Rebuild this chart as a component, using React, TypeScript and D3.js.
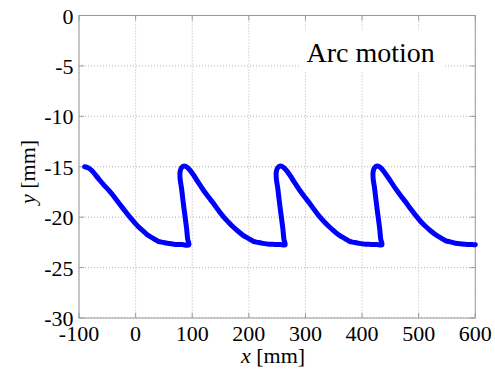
import React from "react";
import * as d3 from "d3";

// Trajectory of the tool tip, x and y in millimetres
const pathX = [
  -90, -84, -78, -66, -57, -48, -39, -31, -22, -13, -4, 5, 14, 22, 31, 40, 49, 58, 70, 82, 94,
  92, 90, 87, 84, 81, 78.5, 78.5, 81, 85.5, 92,
  102, 110, 119.5, 128, 137, 146, 155, 164, 172, 181, 190, 199, 208, 216, 225, 236, 246, 256, 264,
  262, 260, 257, 254, 251, 248.5, 248.5, 251, 255.5, 262,
  272, 280, 289.5, 298, 307, 316, 325, 334, 342, 351, 360, 369, 378, 386, 395, 406, 416, 426, 435,
  433, 431, 428, 425, 422, 419.5, 419.5, 422, 426.5, 433,
  442, 450, 459.5, 468, 477, 486, 495, 504, 512, 521, 530, 539, 548, 556, 565, 576, 586, 595, 600,
];
const pathY = [
  -15.0, -15.1, -15.35, -16.15, -16.75, -17.3, -17.9, -18.5, -19.15, -19.8, -20.4, -20.95, -21.4, -21.8, -22.1, -22.4, -22.5, -22.6, -22.7, -22.72, -22.75,
  -22.2, -21.1, -19.8, -18.5, -17.1, -16.15, -15.5, -15.1, -14.93, -15.1,
  -15.8, -16.5, -17.3, -17.95, -18.6, -19.3, -19.95, -20.5, -20.95, -21.4, -21.8, -22.1, -22.4, -22.5, -22.6, -22.68, -22.7, -22.72, -22.75,
  -22.2, -21.1, -19.8, -18.5, -17.1, -16.15, -15.5, -15.1, -14.93, -15.1,
  -15.8, -16.5, -17.3, -17.95, -18.6, -19.3, -19.95, -20.5, -20.95, -21.4, -21.8, -22.1, -22.4, -22.5, -22.6, -22.68, -22.7, -22.72, -22.75,
  -22.2, -21.1, -19.8, -18.5, -17.1, -16.15, -15.5, -15.1, -14.93, -15.1,
  -15.75, -16.4, -17.2, -17.85, -18.5, -19.2, -19.85, -20.45, -20.9, -21.35, -21.75, -22.05, -22.35, -22.45, -22.58, -22.65, -22.7, -22.72, -22.73,
];

const xTicks = [-100, 0, 100, 200, 300, 400, 500, 600];
const yTicks = [0, -5, -10, -15, -20, -25, -30];
const titleText = "Arc motion";

const W = 495;
const H = 372;
const plot = { left: 79, right: 475.3, top: 15.5, bottom: 318 };
const FONT = "Liberation Serif, Tinos, Times New Roman, DejaVu Serif, serif";

export default function App() {
  const x = d3.scaleLinear().domain([-100, 600]).range([plot.left, plot.right]);
  const y = d3.scaleLinear().domain([-30, 0]).range([plot.bottom, plot.top]);

  const pts: [number, number][] = pathX.map((v, i) => [v, pathY[i]]);
  const line = d3
    .line<[number, number]>()
    .x((d) => x(d[0]))
    .y((d) => y(d[1]))
    .curve(d3.curveCatmullRom.alpha(0.5));

  const gridColor = "#b4b4b4";
  const axisColor = "#9a9a9a";
  const tickLen = 5;

  return (
    <div style={{ position: "absolute", left: 0, top: 0 }}>
      <svg width={W} height={H} style={{ display: "block", background: "#fff", fontFamily: FONT }}>
        {/* grid */}
        {xTicks.map((t) => (
          <line key={"gx" + t} x1={x(t)} x2={x(t)} y1={plot.top} y2={plot.bottom}
            stroke={gridColor} strokeWidth={1} strokeDasharray="1,2" />
        ))}
        {yTicks.map((t) => (
          <line key={"gy" + t} x1={plot.left} x2={plot.right} y1={y(t)} y2={y(t)}
            stroke={gridColor} strokeWidth={1} strokeDasharray="1,2" />
        ))}

        {/* title box */}
        <rect x={300} y={31} width={144} height={40} fill="#fff" />
        <text x={306.5} y={62} fontSize={28} fill="#000">{titleText}</text>

        {/* inward ticks */}
        {xTicks.map((t) => (
          <g key={"tx" + t}>
            <line x1={x(t)} x2={x(t)} y1={plot.bottom} y2={plot.bottom - tickLen} stroke={axisColor} />
            <line x1={x(t)} x2={x(t)} y1={plot.top} y2={plot.top + tickLen} stroke={axisColor} />
          </g>
        ))}
        {yTicks.map((t) => (
          <g key={"ty" + t}>
            <line x1={plot.left} x2={plot.left + tickLen} y1={y(t)} y2={y(t)} stroke={axisColor} />
            <line x1={plot.right} x2={plot.right - tickLen} y1={y(t)} y2={y(t)} stroke={axisColor} />
          </g>
        ))}

        {/* axes box */}
        <rect x={plot.left} y={plot.top} width={plot.right - plot.left} height={plot.bottom - plot.top}
          fill="none" stroke={axisColor} strokeWidth={1} />

        {/* trajectory */}
        <path d={line(pts) || ""} fill="none" stroke="#0000ff" strokeWidth={5}
          strokeLinecap="round" strokeLinejoin="round" />

        {/* tick labels */}
        {xTicks.map((t) => (
          <text key={"lx" + t} x={x(t)} y={341} textAnchor="middle" fontSize={22} fill="#000">
            {t}
          </text>
        ))}
        {yTicks.map((t) => (
          <text key={"ly" + t} x={73.5} y={y(t) + 8} textAnchor="end" fontSize={22} fill="#000">
            {t}
          </text>
        ))}

        {/* axis titles */}
        <text x={273} y={363} textAnchor="middle" fontSize={22} fill="#000">
          <tspan fontStyle="italic">x</tspan> [mm]
        </text>
        <text transform="translate(35,172) rotate(-90)" textAnchor="middle" fontSize={22} fill="#000">
          <tspan fontStyle="italic">y</tspan> [mm]
        </text>
      </svg>
    </div>
  );
}
